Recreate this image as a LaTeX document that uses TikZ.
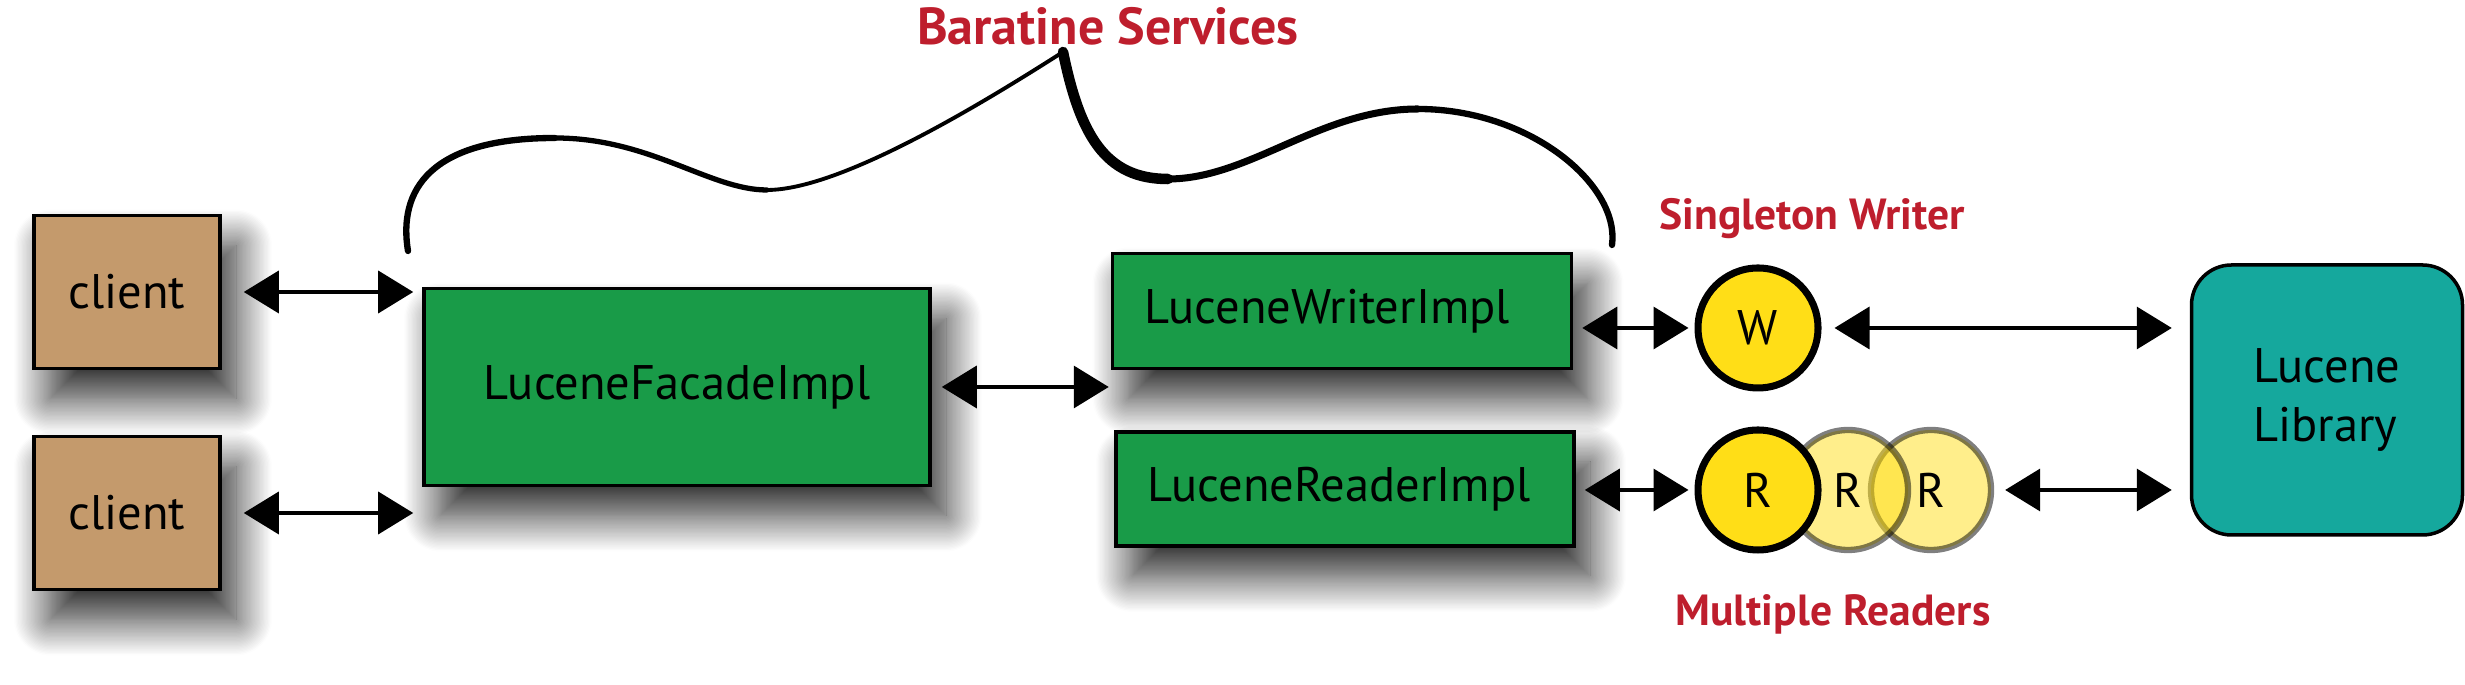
\documentclass[tikz,border=0pt]{standalone}
\usepackage{fontspec}
\setmainfont{PT Sans}
\usepackage{tikz}
\usetikzlibrary{arrows.meta}
\usetikzlibrary{shadows.blur}

\definecolor{clienttan}{HTML}{C49A6C}
\definecolor{implgreen}{HTML}{199B48}
\definecolor{libteal}{HTML}{15A89D}
\definecolor{dotyellow}{HTML}{FFDE17}
\definecolor{labelred}{HTML}{BE1E2D}

\begin{document}
\begin{tikzpicture}[
    box/.style={draw, line width=1pt, inner sep=0pt, font=\fontsize{13.8}{16.8}\selectfont,
      blur shadow={shadow xshift=0.16cm, shadow yshift=-0.3cm, shadow blur radius=0.36cm,
        shadow blur steps=28, shadow opacity=85}},
    implbox/.style={box, fill=implgreen, text width=3.95cm, align=left},
    dot/.style={draw, circle, line width=2pt, fill=dotyellow, minimum size=1.2cm, inner sep=0pt,
      font=\fontsize{13.8}{16.8}\selectfont},
    ghost/.style={dot, fill opacity=0.5, draw opacity=0.5, text opacity=1, line width=1.8pt},
    link/.style={{Triangle[length=0.35cm,width=0.42cm]}-{Triangle[length=0.35cm,width=0.42cm]}, line width=1pt},
    tag/.style={text=labelred, font=\bfseries\fontsize{12.4}{15}\selectfont},
  ]
        \useasboundingbox (0,0) rectangle (24.65,6.85);

        \node[box, fill=clienttan, minimum width=1.86cm, minimum height=1.53cm] (client1) at (1.27,3.93) {client};
        \node[box, fill=clienttan, minimum width=1.86cm, minimum height=1.53cm] (client2) at (1.27,1.72) {client};
        \node[box, fill=implgreen, minimum width=5.06cm, minimum height=1.97cm] (facade) at (6.77,2.98) {LuceneFacadeImpl};
        \node[implbox, minimum width=4.59cm, minimum height=1.15cm] (writer) at (13.42,3.74) {LuceneWriterImpl};
        \node[implbox, minimum width=4.58cm, minimum height=1.14cm] (reader) at (13.45,1.96) {LuceneReaderImpl};

        \node[dot] (wdot) at (17.58,3.57) {W};
        \node[ghost] (rdot3) at (19.31,1.95) {R};
        \node[ghost] (rdot2) at (18.48,1.95) {R};
        \node[dot] (rdot1) at (17.58,1.95) {R};

        \node[draw, line width=1pt, rounded corners=0.4cm, fill=libteal, minimum width=2.71cm, minimum height=2.70cm,
              align=left, font=\fontsize{13.8}{16.8}\selectfont] (lucene) at (23.27,2.85) {Lucene\\Library};

        \node[tag, font=\bfseries\fontsize{14.8}{17}\selectfont] (services) at (11.08,6.59) {Baratine Services};
        \node[tag] (singleton) at (18.12,4.66) {Singleton Writer};
        \node[tag] (multiple) at (18.33,0.71) {Multiple Readers};

        % connectors
        \draw[link, shorten <=0.22cm, shorten >=0.09cm] (client1.east) -- (client1.east -| facade.west);
        \draw[link, shorten <=0.22cm, shorten >=0.09cm] (client2.east) -- (client2.east -| facade.west);
        \draw[link, shorten <=0.10cm, shorten >=0.02cm] (facade.east) -- (facade.east -| writer.west);
        \draw[link, shorten <=0.09cm, shorten >=0.06cm] (wdot.west -| writer.east) -- (wdot.west);
        \draw[link, shorten <=0.09cm, shorten >=0.06cm] (rdot1.west -| reader.east) -- (rdot1.west);
        \draw[link, shorten <=0.13cm, shorten >=0.18cm] (wdot.east) -- (wdot.east -| lucene.west);
        \draw[link, shorten <=0.11cm, shorten >=0.18cm] (rdot3.east) -- (rdot3.east -| lucene.west);

        % the brace over the services
        \draw[line width=1.8pt, line cap=round] (4.08,4.34) .. controls (3.98,4.95) and (4.3,5.47) .. (5.55,5.47);
        \draw[line width=1.5pt, line cap=round] (5.55,5.47) .. controls (6.5,5.47) and (7.1,4.95) .. (7.67,4.95);
        \draw[line width=1.1pt, line cap=round] (7.67,4.95) .. controls (8.4,4.95) and (9.8,5.8) .. (10.63,6.33);
        \draw[line width=3pt, line cap=round] (10.63,6.33) .. controls (10.8,5.5) and (11.05,5.06) .. (11.68,5.06);
        \draw[line width=2pt, line cap=round] (11.68,5.06) .. controls (12.5,5.06) and (13.2,5.76) .. (14.18,5.76);
        \draw[line width=1.8pt, line cap=round] (14.18,5.76) .. controls (15.3,5.76) and (16.2,5.0) .. (16.12,4.40);
\end{tikzpicture}
\end{document}
